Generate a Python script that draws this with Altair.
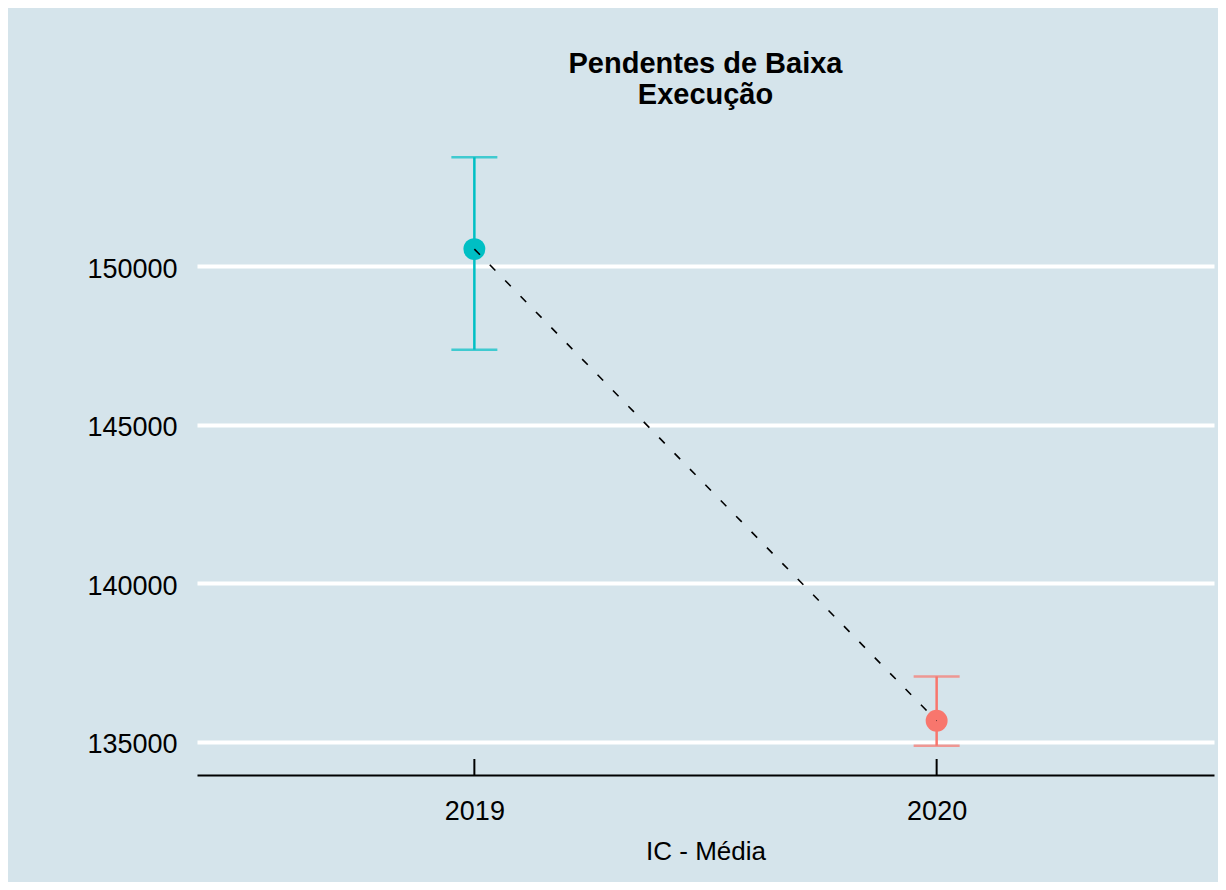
import altair as alt
import pandas as pd

years = [2019, 2020]
means = [150548, 135662]
lower = [147375, 134874]
upper = [153447, 137061]
colors = ["#00BFC4", "#F8766D"]
y_ticks = [135000, 140000, 145000, 150000]

df = pd.DataFrame({"ano": years, "media": means, "inf": lower, "sup": upper,
                   "cor": colors})

W, H = 1017, 647
FONT = "Liberation Sans"

xscale = alt.Scale(domain=[2018.4, 2020.6], nice=False, zero=False)
yscale = alt.Scale(domain=[133950, 154370], nice=False, zero=False)

xaxis = alt.Axis(values=years, format="d", title="IC - Média", grid=False,
                 domain=True, domainColor="#000000", domainWidth=2,
                 ticks=False, labelFontSize=27, labelFont=FONT,
                 labelColor="#000000", labelBaseline="alphabetic",
                 labelPadding=44, titleFont=FONT, titleFontSize=26,
                 titleFontWeight="normal", titleColor="#000000",
                 titleBaseline="alphabetic", titleY=84)
yaxis = alt.Axis(values=y_ticks, format="d", title=None, grid=True,
                 gridColor="#FFFFFF", gridWidth=4, domain=False, ticks=False,
                 labelFontSize=27, labelFont=FONT, labelColor="#000000",
                 labelPadding=20, labelBaseline="middle", labelOffset=3)

base = alt.Chart(df)

grid = base.mark_point(opacity=0).encode(
    x=alt.X("ano:Q", scale=xscale, axis=xaxis),
    y=alt.Y("media:Q", scale=yscale, axis=yaxis),
)

bars = base.mark_rule(strokeWidth=2.5).encode(
    x=alt.X("ano:Q", scale=xscale),
    y=alt.Y("inf:Q", scale=yscale),
    y2="sup:Q",
    color=alt.Color("cor:N", scale=None),
)

cap_top = base.mark_tick(thickness=2.5, size=46, orient="horizontal").encode(
    x=alt.X("ano:Q", scale=xscale),
    y=alt.Y("sup:Q", scale=yscale),
    color=alt.Color("cor:N", scale=None),
)
cap_bot = base.mark_tick(thickness=2.5, size=46, orient="horizontal").encode(
    x=alt.X("ano:Q", scale=xscale),
    y=alt.Y("inf:Q", scale=yscale),
    color=alt.Color("cor:N", scale=None),
)

points = base.mark_point(filled=True, shape="circle", size=480, opacity=1).encode(
    x=alt.X("ano:Q", scale=xscale),
    y=alt.Y("media:Q", scale=yscale),
    color=alt.Color("cor:N", scale=None),
)

line = base.mark_line(color="#000000", strokeWidth=1.6, strokeDash=[8, 14]).encode(
    x=alt.X("ano:Q", scale=xscale),
    y=alt.Y("media:Q", scale=yscale),
)

xticks = base.mark_rule(color="#000000", strokeWidth=2).encode(
    x=alt.X("ano:Q", scale=xscale),
    y=alt.value(H - 16),
    y2=alt.value(H),
)

chart = alt.layer(grid, bars, cap_top, cap_bot, points, line, xticks).properties(
    width=W,
    height=H,
    title=alt.TitleParams(
        text=["Pendentes de Baixa", "Execução"],
        font=FONT, fontSize=29, fontWeight="bold", color="#000000",
        anchor="middle", lineHeight=31, offset=-5, baseline="alphabetic",
    ),
    autosize=alt.AutoSizeParams(type="none"),
    padding={"left": 189, "top": 120, "right": 4, "bottom": 107},
    background="#D5E4EB",
).configure_view(stroke=None, fill="#D5E4EB")

chart.save("out.html", embed_options={"renderer": "svg", "actions": False})
